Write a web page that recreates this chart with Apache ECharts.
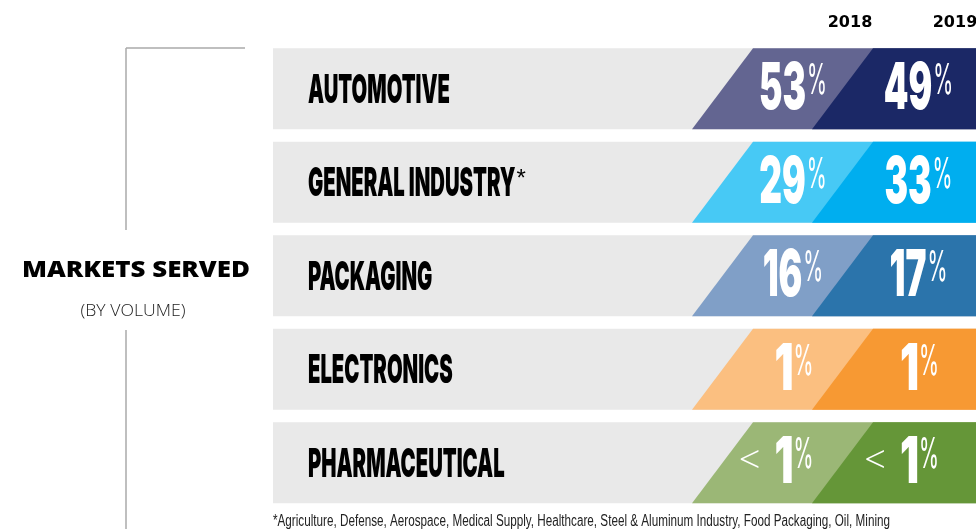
<!DOCTYPE html>
<html>
<head>
<meta charset="utf-8">
<script src="https://cdn.jsdelivr.net/npm/echarts@6/dist/echarts.min.js"></script>
<style>
html,body{margin:0;padding:0;background:#fff;}
#chart{width:976px;height:529px;}
</style>
</head>
<body>
<div id="chart"></div>
<script>
// ---- data ----
var categories = ['AUTOMOTIVE', 'GENERAL INDUSTRY*', 'PACKAGING', 'ELECTRONICS', 'PHARMACEUTICAL'];
var years = ['2018', '2019'];
var share2018 = ['53', '29', '16', '1', '<1'];
var share2019 = ['49', '33', '17', '1', '<1'];
var title = 'MARKETS SERVED';
var subtitle = '(BY VOLUME)';
var footnote = '*Agriculture, Defense, Aerospace, Medical Supply, Healthcare, Steel & Aluminum Industry, Food Packaging, Oil, Mining';

// ---- styles ----
var lightColors = ['#636591', '#47c9f5', '#809fc7', '#fbbf80', '#9bb776'];
var darkColors  = ['#1b2866', '#00aeef', '#2b74ab', '#f79933', '#659638'];
var bandColor = '#e9e9e9';

var ctx = document.createElement('canvas').getContext('2d');
function tw(text, font) { ctx.font = font; return ctx.measureText(text).width; }

var labelFont = '900 40px Inter, "Liberation Sans", sans-serif';
var labelScale = 142 / tw('AUTOMOTIVE', labelFont);
var digitFont = '900 65px Inter, "Liberation Sans", sans-serif';
var digitScale = 47 / tw('53', digitFont);
var pctFont = '400 42px Inter, "Liberation Sans", sans-serif';
var pctScale = 20 / tw('%', pctFont);
var astFont = '300 24px "Liberation Sans", sans-serif';
var ltFont = '300 38px "Open Sans", "Liberation Sans", sans-serif';

function pctElements(str, cx, cy) {
  var els = [];
  var less = str.charAt(0) === '<';
  var digits = less ? str.slice(1) : str;
  var wd = digitScale * tw(digits, digitFont);
  if (digits.length === 1) wd += 4;
  var wp = 20, gap = 1;
  var start = cx - (wd + gap + wp) / 2;
  els.push({
    type: 'text', x: start + (digits.length === 1 ? 2 : 0), y: cy + 1, scaleX: digitScale * (digits.length === 1 ? 1.2 : 1),
    style: { text: digits, font: digitFont, fill: '#fff', align: 'left', verticalAlign: 'middle' }
  });
  els.push({
    type: 'text', x: start + wd + gap, y: cy - 7, scaleX: pctScale,
    style: { text: '%', font: pctFont, fill: '#fff', align: 'left', verticalAlign: 'middle' }
  });
  if (less) {
    els.push({
      type: 'text', x: start - 12, y: cy - 1,
      style: { text: '<', font: ltFont, fill: '#fff', align: 'right', verticalAlign: 'middle' }
    });
  }
  return els;
}

function renderItem(params, api) {
  var i = api.value(1);
  var cs = params.coordSys;
  var c = api.coord([0, i]);
  var h = api.size([0, 1])[1] * 0.866;
  var L = cs.x, R = cs.x + cs.width;
  var T = c[1] - h / 2, B = c[1] + h / 2;
  var cy = c[1];
  var children = [
    { type: 'rect', shape: { x: L, y: T, width: R - L, height: h }, style: { fill: bandColor } },
    { type: 'polygon', shape: { points: [[L + 419, B], [L + 480, T], [R, T], [R, B]] }, style: { fill: lightColors[i] } },
    { type: 'polygon', shape: { points: [[L + 539, B], [L + 600, T], [R, T], [R, B]] }, style: { fill: darkColors[i] } }
  ];
  var name = categories[i];
  var star = name.charAt(name.length - 1) === '*';
  var base = star ? name.slice(0, -1) : name;
  children.push({
    type: 'text', x: L + 35, y: cy + 2, scaleX: labelScale,
    style: { text: base, font: labelFont, fill: '#000', align: 'left', verticalAlign: 'middle' }
  });
  if (star) {
    children.push({
      type: 'text', x: L + 35 + labelScale * tw(base, labelFont) + 1, y: cy - 3,
      style: { text: '*', font: astFont, fill: '#000', align: 'left', verticalAlign: 'middle' }
    });
  }
  children = children.concat(pctElements(share2018[i], L + 520, cy));
  children = children.concat(pctElements(share2019[i], L + 645.5, cy));
  return { type: 'group', children: children };
}

var titleFont = '800 23px "Open Sans", "Liberation Sans", sans-serif';
var titleScale = 228 / tw(title, titleFont);
var subFont = '300 17px "Open Sans", "Liberation Sans", sans-serif';
var subScale = 105 / tw(subtitle, subFont);
var footFont = '400 16px "Liberation Sans", sans-serif';
var footScale = 617 / tw(footnote, footFont);
var yearFont = 'bold 16px "DejaVu Sans", sans-serif';

var chart = echarts.init(document.getElementById('chart'), null, { renderer: 'canvas' });
chart.setOption({
  animation: false,
  backgroundColor: '#fff',
  grid: { left: 273, right: 0, top: 42, height: 467.5 },
  xAxis: { type: 'value', min: 0, max: 100, show: false },
  yAxis: { type: 'category', data: categories, inverse: true, show: false },
  series: [{
    type: 'custom',
    renderItem: renderItem,
    encode: { x: 0, y: 1 },
    data: categories.map(function (c, i) { return [0, i]; })
  }],
  graphic: [
    { type: 'line', shape: { x1: 126, y1: 48, x2: 245, y2: 48 }, style: { stroke: '#aaaaaa', lineWidth: 1.5 } },
    { type: 'line', shape: { x1: 126, y1: 48, x2: 126, y2: 230 }, style: { stroke: '#aaaaaa', lineWidth: 1.5 } },
    { type: 'line', shape: { x1: 126, y1: 330, x2: 126, y2: 529 }, style: { stroke: '#aaaaaa', lineWidth: 1.5 } },
    { type: 'text', x: 136, y: 270, scaleX: titleScale,
      style: { text: title, font: titleFont, fill: '#000', align: 'center', verticalAlign: 'middle' } },
    { type: 'text', x: 133, y: 311, scaleX: subScale,
      style: { text: subtitle, font: subFont, fill: '#222', align: 'center', verticalAlign: 'middle' } },
    { type: 'text', x: 850, y: 23,
      style: { text: years[0], font: yearFont, fill: '#000', align: 'center', verticalAlign: 'middle' } },
    { type: 'text', x: 955, y: 23,
      style: { text: years[1], font: yearFont, fill: '#000', align: 'center', verticalAlign: 'middle' } },
    { type: 'text', x: 273, y: 522, scaleX: footScale,
      style: { text: footnote, font: footFont, fill: '#222', align: 'left', verticalAlign: 'middle' } }
  ]
});
</script>
</body>
</html>
